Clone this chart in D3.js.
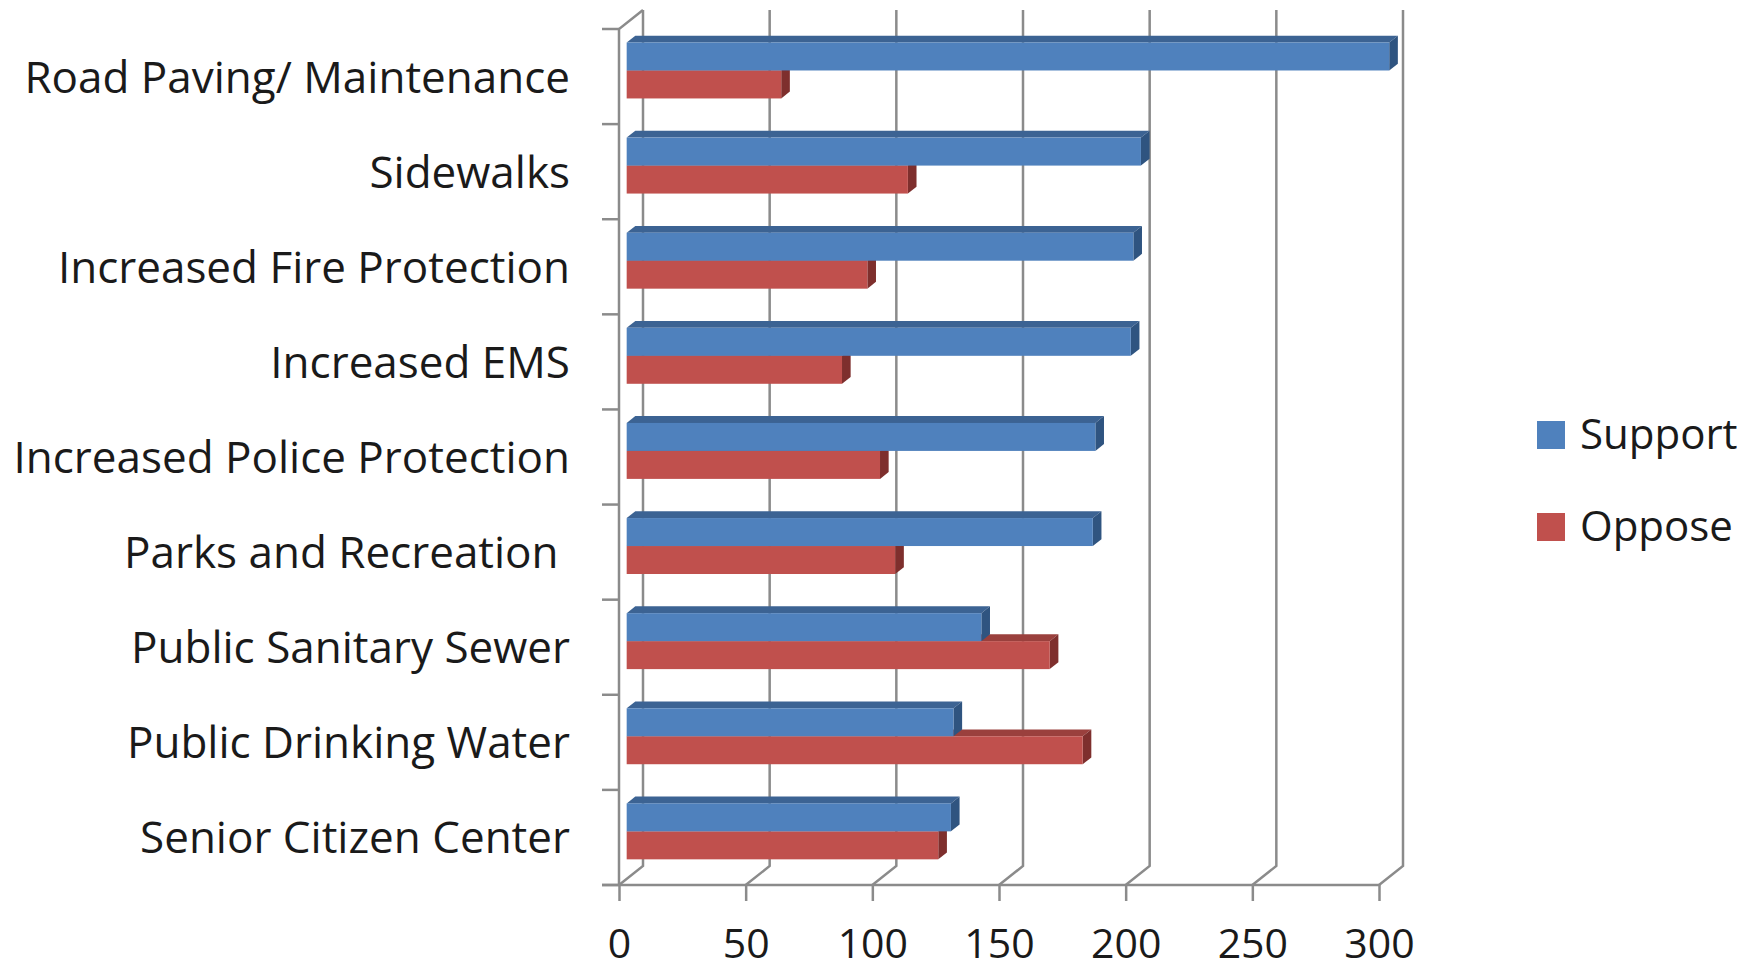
<!DOCTYPE html>
<html>
<head>
	<meta charset="utf-8">
	<script type="text/javascript" src="https://cdn.jsdelivr.net/npm/d3@7/dist/d3.min.js"></script>
	<title>Support / Oppose</title>
	<style>
		body { margin: 0; background: #fff; }
		text { font-family: "Open Sans", sans-serif; fill: #1a1a1a; }
	</style>
</head>
<body>
	<script type="text/javascript">

	// data
	var categories = ["Road Paving/ Maintenance", "Sidewalks", "Increased Fire Protection", "Increased EMS",
		"Increased Police Protection", "Parks and Recreation ", "Public Sanitary Sewer",
		"Public Drinking Water", "Senior Citizen Center"];
	var support = [301, 203, 200, 199, 185, 184, 140, 129, 128];
	var oppose = [61, 111, 95, 85, 100, 106, 167, 180, 123];
	var series = ["Support", "Oppose"];
	var xTicks = [0, 50, 100, 150, 200, 250, 300];

	var widthSvg = 1760;
	var heightSvg = 971;

	// 3d depth of the plot box (back = front + depth)
	var DX = 24, DY = -19;
	var frontTop = 29, frontBottom = 885;
	var barFront = 0.32, barDepth = 0.36;
	var gridColor = "#8b8b8b";

	var colors = {
		Support: { front: "#4F81BD", top: "#3C6393", side: "#2F5480" },
		Oppose: { front: "#C0504D", top: "#9A403D", side: "#7E2F2D" }
	};

	var svg = d3.select("body")
		.append("svg")
		.attr("width", widthSvg)
		.attr("height", heightSvg);

	var xScale = d3.scaleLinear()
		.domain([0, 300])
		.range([619, 1379]);

	var y0 = d3.scaleBand()
		.domain(categories)
		.range([frontTop, frontBottom]);

	var y1 = d3.scaleBand()
		.domain(series)
		.range([0, y0.bandwidth()])
		.paddingOuter(0.7);

	// back wall gridlines + floor diagonals
	var grid = svg.append("g");
	xTicks.forEach(function(t) {
		var fx = xScale(t);
		grid.append("path")
			.attr("d", "M" + (fx + DX) + "," + (frontTop + DY) +
				"L" + (fx + DX) + "," + (frontBottom + DY) +
				"L" + fx + "," + frontBottom)
			.attr("fill", "none")
			.attr("stroke", gridColor)
			.attr("stroke-width", 2.5);
	});

	// left wall
	grid.append("path")
		.attr("d", "M" + (xScale(0) + DX) + "," + (frontTop + DY) +
			"L" + xScale(0) + "," + frontTop +
			"L" + xScale(0) + "," + frontBottom)
		.attr("fill", "none")
		.attr("stroke", gridColor)
		.attr("stroke-width", 2.5);

	var bounds = categories.map(function(c) { return y0(c); }).concat([frontBottom]);
	grid.selectAll("line.ytick")
		.data(bounds)
		.enter()
		.append("line")
		.attr("class", "ytick")
		.attr("x1", xScale(0) - 17)
		.attr("x2", xScale(0))
		.attr("y1", function(d) { return d; })
		.attr("y2", function(d) { return d; })
		.attr("stroke", gridColor)
		.attr("stroke-width", 2.5);

	// front x axis
	grid.append("line")
		.attr("x1", xScale(0) - 17)
		.attr("x2", xScale(300))
		.attr("y1", frontBottom)
		.attr("y2", frontBottom)
		.attr("stroke", gridColor)
		.attr("stroke-width", 2.5);

	var xAxis = svg.append("g")
		.attr("transform", "translate(0," + frontBottom + ")")
		.call(d3.axisBottom(xScale).tickValues(xTicks).tickSize(16).tickSizeOuter(0));
	xAxis.select(".domain").remove();
	xAxis.selectAll(".tick line").attr("stroke", gridColor).attr("stroke-width", 2.5);
	xAxis.selectAll(".tick text")
		.attr("y", 73)
		.attr("dy", null)
		.attr("font-size", 41)
		.attr("font-family", "'Open Sans', sans-serif")
		.attr("fill", "#1a1a1a");

	// bars
	var bars = [];
	categories.forEach(function(c, i) {
		bars.push({ cat: c, s: "Oppose", v: oppose[i] });
		bars.push({ cat: c, s: "Support", v: support[i] });
	});

	var bdx = barDepth * DX, bdy = barDepth * DY;
	var barG = svg.selectAll("g.bar")
		.data(bars)
		.enter()
		.append("g")
		.attr("class", "bar");

	function geom(d) {
		var x1 = xScale(0) + barFront * DX;
		var x2 = xScale(d.v) + barFront * DX;
		var yt = y0(d.cat) + y1(d.s) + barFront * DY;
		var yb = yt + y1.bandwidth();
		return { x1: x1, x2: x2, yt: yt, yb: yb };
	}

	barG.append("polygon")
		.attr("points", function(d) {
			var g = geom(d);
			return [[g.x1, g.yt], [g.x2, g.yt], [g.x2 + bdx, g.yt + bdy], [g.x1 + bdx, g.yt + bdy]].join(" ");
		})
		.attr("fill", function(d) { return colors[d.s].top; });

	barG.append("polygon")
		.attr("points", function(d) {
			var g = geom(d);
			return [[g.x2, g.yt], [g.x2, g.yb], [g.x2 + bdx, g.yb + bdy], [g.x2 + bdx, g.yt + bdy]].join(" ");
		})
		.attr("fill", function(d) { return colors[d.s].side; });

	barG.append("rect")
		.attr("x", function(d) { return geom(d).x1; })
		.attr("y", function(d) { return geom(d).yt; })
		.attr("width", function(d) { return geom(d).x2 - geom(d).x1; })
		.attr("height", y1.bandwidth())
		.attr("fill", function(d) { return colors[d.s].front; });

	// category labels
	svg.selectAll("text.cat")
		.data(categories)
		.enter()
		.append("text")
		.attr("class", "cat")
		.attr("x", 570)
		.attr("y", function(d) { return y0(d) + y0.bandwidth() / 2 + 16; })
		.attr("text-anchor", "end")
		.attr("font-size", 44)
		.style("white-space", "pre")
		.text(function(d) { return d; });

	// legend
	var legend = svg.selectAll("g.legend")
		.data(series)
		.enter()
		.append("g")
		.attr("class", "legend")
		.attr("transform", function(d, i) { return "translate(1537," + (421 + i * 92) + ")"; });

	legend.append("rect")
		.attr("width", 28)
		.attr("height", 28)
		.attr("fill", function(d) { return colors[d].front; });

	legend.append("text")
		.attr("x", 43)
		.attr("y", 28)
		.attr("font-size", 42)
		.text(function(d) { return d; });

	</script>
</body>
</html>
